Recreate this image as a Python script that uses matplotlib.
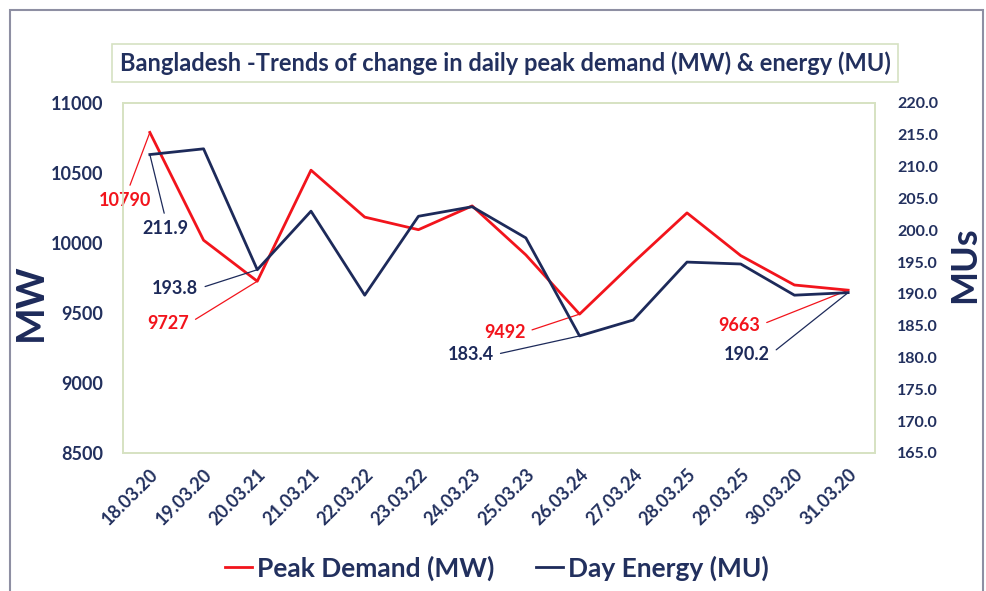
import matplotlib
matplotlib.use("Agg")
import matplotlib.pyplot as plt
from matplotlib.patches import Rectangle

# =========================
# DATA
# =========================
DATES = ["18.03.20", "19.03.20", "20.03.21", "21.03.21", "22.03.22", "23.03.22",
         "24.03.23", "25.03.23", "26.03.24", "27.03.24", "28.03.25", "29.03.25",
         "30.03.20", "31.03.20"]
PEAK_MW = [10790, 10020, 9727, 10520, 10185, 10095, 10265, 9915, 9492, 9860,
           10215, 9910, 9700, 9663]
ENERGY_MU = [211.9, 212.8, 193.8, 203.0, 189.8, 202.2, 203.7, 198.8, 183.4,
             185.9, 195.0, 194.7, 189.8, 190.2]

MW_TICKS = [8500, 9000, 9500, 10000, 10500, 11000]
MU_TICKS = [165.0, 170.0, 175.0, 180.0, 185.0, 190.0, 195.0, 200.0, 205.0,
            210.0, 215.0, 220.0]

RED = "#f2141c"
NAVY = "#1d2a5a"
TXT = "#22305e"

plt.rcParams["font.family"] = ["Lato", "DejaVu Sans"]

fig = plt.figure(figsize=(9.87, 5.91), dpi=100)

# outer frame
fig.patches.append(Rectangle((10 / 987, -0.01), 973 / 987, 1 - 10 / 591 + 0.01,
                             transform=fig.transFigure, fill=False,
                             edgecolor="#8e8fa3", lw=1.5))

ax = fig.add_axes([123 / 987, 138 / 591, 752 / 987, 350 / 591])
ax2 = ax.twinx()

x = list(range(len(DATES)))
l1, = ax.plot(x, PEAK_MW, color=RED, lw=2.0, label="Peak Demand (MW)", zorder=3)
l2, = ax2.plot(x, ENERGY_MU, color=NAVY, lw=2.0, label="Day Energy (MU)", zorder=3)

ax.set_xlim(-0.5, len(DATES) - 0.5)
ax.set_ylim(8500, 11000)
ax2.set_ylim(165, 220)
ax.set_yticks(MW_TICKS)
ax.set_yticklabels([str(t) for t in MW_TICKS])
ax2.set_yticks(MU_TICKS)
ax2.set_yticklabels([f"{t:.1f}" for t in MU_TICKS])
ax.set_xticks(x)
ax.set_xticklabels(DATES, rotation=45, ha="right", rotation_mode="anchor")

for a in (ax, ax2):
    a.tick_params(length=0, colors=TXT)
    for s in a.spines.values():
        s.set_color("#d6e2c2")
        s.set_linewidth(1.2)
ax.tick_params(axis="y", pad=14, labelsize=13)
ax2.tick_params(axis="y", pad=16, labelsize=11.5)
ax.tick_params(axis="x", labelsize=13, pad=9)
for lab in ax.get_yticklabels() + ax2.get_yticklabels() + ax.get_xticklabels():
    lab.set_fontweight("bold")

ax.set_ylabel("MW", fontsize=28, fontweight="bold", color=NAVY)
ax.yaxis.set_label_coords(-0.1, 0.43)
ax2.set_ylabel("MUs", fontsize=26, fontweight="bold", color=NAVY, rotation=90)
ax2.yaxis.set_label_coords(1.097, 0.537)

# data labels with leader lines
def tag(a, i, vals, text, dx, dy, color, rel):
    a.annotate(text, xy=(i, vals[i]), xytext=(dx, dy), textcoords="offset pixels",
               ha="center", va="center", fontsize=13, fontweight="bold", color=color,
               arrowprops=dict(arrowstyle="-", color=color, lw=0.9,
                               shrinkA=3, shrinkB=0, relpos=rel))

tag(ax, 0, PEAK_MW, "10790", -25, -68, RED, (0.55, 1.0))
tag(ax2, 0, ENERGY_MU, "211.9", 16, -74, NAVY, (0.5, 1.0))
tag(ax2, 2, ENERGY_MU, "193.8", -82, -19, NAVY, (1.0, 0.5))
tag(ax, 2, PEAK_MW, "9727", -89, -42, RED, (1.0, 0.5))
tag(ax, 8, PEAK_MW, "9492", -75, -18, RED, (1.0, 0.5))
tag(ax2, 8, ENERGY_MU, "183.4", -109, -19, NAVY, (1.0, 0.5))
tag(ax, 13, PEAK_MW, "9663", -109, -35, RED, (1.0, 0.5))
tag(ax2, 13, ENERGY_MU, "190.2", -101, -62, NAVY, (1.0, 0.5))

fig.text(505 / 987, 1 - 63 / 591,
         "Bangladesh -Trends of change in daily peak demand (MW) & energy (MU)",
         ha="center", va="center", fontsize=17, fontweight="bold", color=TXT,
         bbox=dict(boxstyle="square,pad=0.3", facecolor="white",
                   edgecolor="#d6e2c2", lw=1.2))

fig.legend(handles=[l1, l2], loc="center", bbox_to_anchor=(497 / 987, 1 - 568 / 591),
           ncol=2, frameon=False, handlelength=1.0, handletextpad=0.2,
           columnspacing=1.6, labelcolor=TXT, prop=dict(size=19, weight="bold"))

fig.savefig("out.png", dpi=100)
